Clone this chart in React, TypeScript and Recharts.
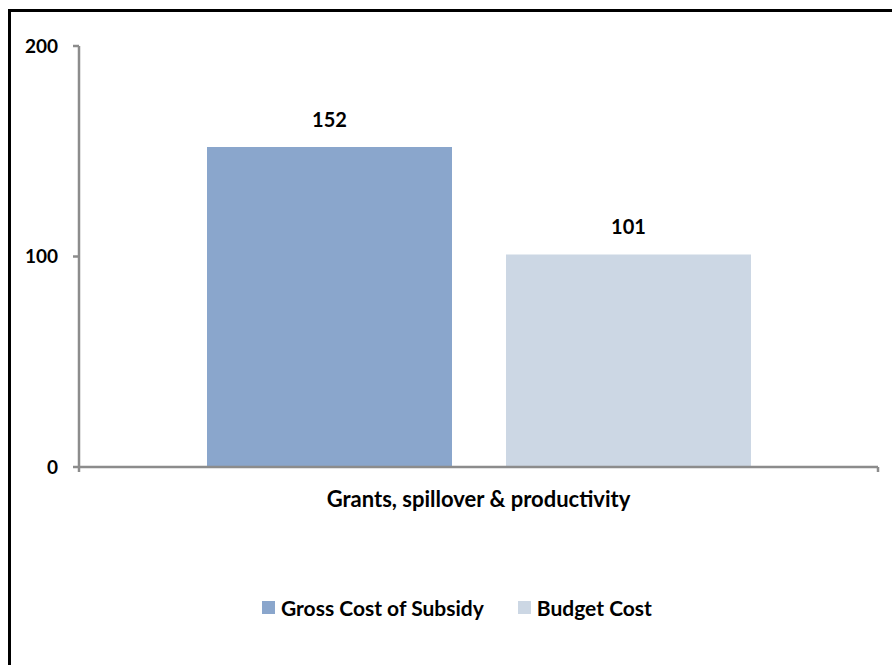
import { Bar, BarChart, LabelList, Legend, XAxis, YAxis } from "recharts"

const categories = ["Grants, spillover & productivity"]
const grossCost = [152]
const budgetCost = [101]
const yTicks = [0, 100, 200]

const seriesOrder = ["gross", "budget"]
const seriesNames = {
  gross: "Gross Cost of Subsidy",
  budget: "Budget Cost",
}

const colors = {
  gross: "#8aa6cc",
  budget: "#ccd7e4",
  axis: "#8c8c8c",
  title: "#1f1f8f",
}

const rows = categories.map((name, i) => ({
  name,
  gross: grossCost[i],
  budget: budgetCost[i],
  edge: 0,
}))

const font = "Lato, 'Open Sans', sans-serif"

function LegendRow({ payload }: any) {
  const items = [...(payload || [])].sort(
    (a: any, b: any) =>
      seriesOrder.indexOf(a.dataKey) - seriesOrder.indexOf(b.dataKey)
  )
  return (
    <div style={{ display: "flex", alignItems: "center", fontFamily: font }}>
      {items.map((item: any, i: number) => (
        <div
          key={item.value}
          style={{
            display: "flex",
            alignItems: "center",
            marginRight: i === 0 ? 34 : 0,
          }}
        >
          <span
            style={{
              width: 13,
              height: 13,
              background: item.color,
              marginRight: 6,
              display: "inline-block",
            }}
          />
          <span style={{ fontSize: 21, fontWeight: 700, color: "#000" }}>
            {item.value}
          </span>
        </div>
      ))}
    </div>
  )
}

export default function App() {
  return (
    <div
      style={{
        position: "fixed",
        left: 0,
        top: 0,
        width: 892,
        height: 665,
        overflow: "hidden",
        background: "#fff",
      }}
    >
      {/* heading sits mostly above the frame */}
      <div
        style={{
          position: "absolute",
          top: -24,
          left: 0,
          width: 1000,
          textAlign: "center",
          fontFamily: font,
          fontSize: 21,
          lineHeight: "24px",
          fontWeight: 700,
          color: colors.title,
          whiteSpace: "nowrap",
        }}
      >
        Net Exchequer Cost per Additional Person Employed (£000s, 2004/05 prices)
      </div>

      {/* outer frame */}
      <div
        style={{
          position: "absolute",
          left: 8,
          top: 9,
          width: 950,
          height: 700,
          borderLeft: "3px solid #000",
          borderTop: "3px solid #000",
        }}
      />

      <div style={{ position: "absolute", left: 0, top: 0 }}>
        <BarChart
          width={892}
          height={665}
          data={rows}
          margin={{ top: 46, right: 14, bottom: 157, left: 0 }}
          barCategoryGap={128}
          barGap={54}
        >
          {/* baseline with ticks at the category boundaries */}
          <XAxis
            xAxisId="base"
            dataKey="edge"
            type="number"
            domain={[0, 1]}
            ticks={[0, 1]}
            allowDataOverflow
            height={1}
            tick={() => <g />}
            tickSize={5}
            stroke={colors.axis}
            strokeWidth={2.5}
          />
          <XAxis
            xAxisId="cat"
            dataKey="name"
            height={40}
            axisLine={false}
            tickLine={false}
            tickMargin={17}
            tick={{
              fill: "#000",
              fontSize: 22,
              fontWeight: 700,
              fontFamily: font,
            }}
          />
          <YAxis
            domain={[0, 200]}
            ticks={yTicks}
            width={79}
            tickSize={6}
            tickMargin={15}
            stroke={colors.axis}
            strokeWidth={2.5}
            tick={{
              fill: "#000",
              fontSize: 19,
              fontWeight: 700,
              fontFamily: font,
            }}
          />
          <Legend
            verticalAlign="middle"
            align="center"
            wrapperStyle={{ top: 595, left: 262, width: "auto" }}
            content={<LegendRow />}
          />
          <Bar
            xAxisId="cat"
            dataKey="gross"
            name={seriesNames.gross}
            fill={colors.gross}
            isAnimationActive={false}
          >
            <LabelList
              dataKey="gross"
              position="top"
              offset={20}
              fill="#000"
              fontSize={20}
              fontWeight={700}
              fontFamily={font}
            />
          </Bar>
          <Bar
            xAxisId="cat"
            dataKey="budget"
            name={seriesNames.budget}
            fill={colors.budget}
            isAnimationActive={false}
          >
            <LabelList
              dataKey="budget"
              position="top"
              offset={20}
              fill="#000"
              fontSize={20}
              fontWeight={700}
              fontFamily={font}
            />
          </Bar>
        </BarChart>
      </div>
    </div>
  )
}
